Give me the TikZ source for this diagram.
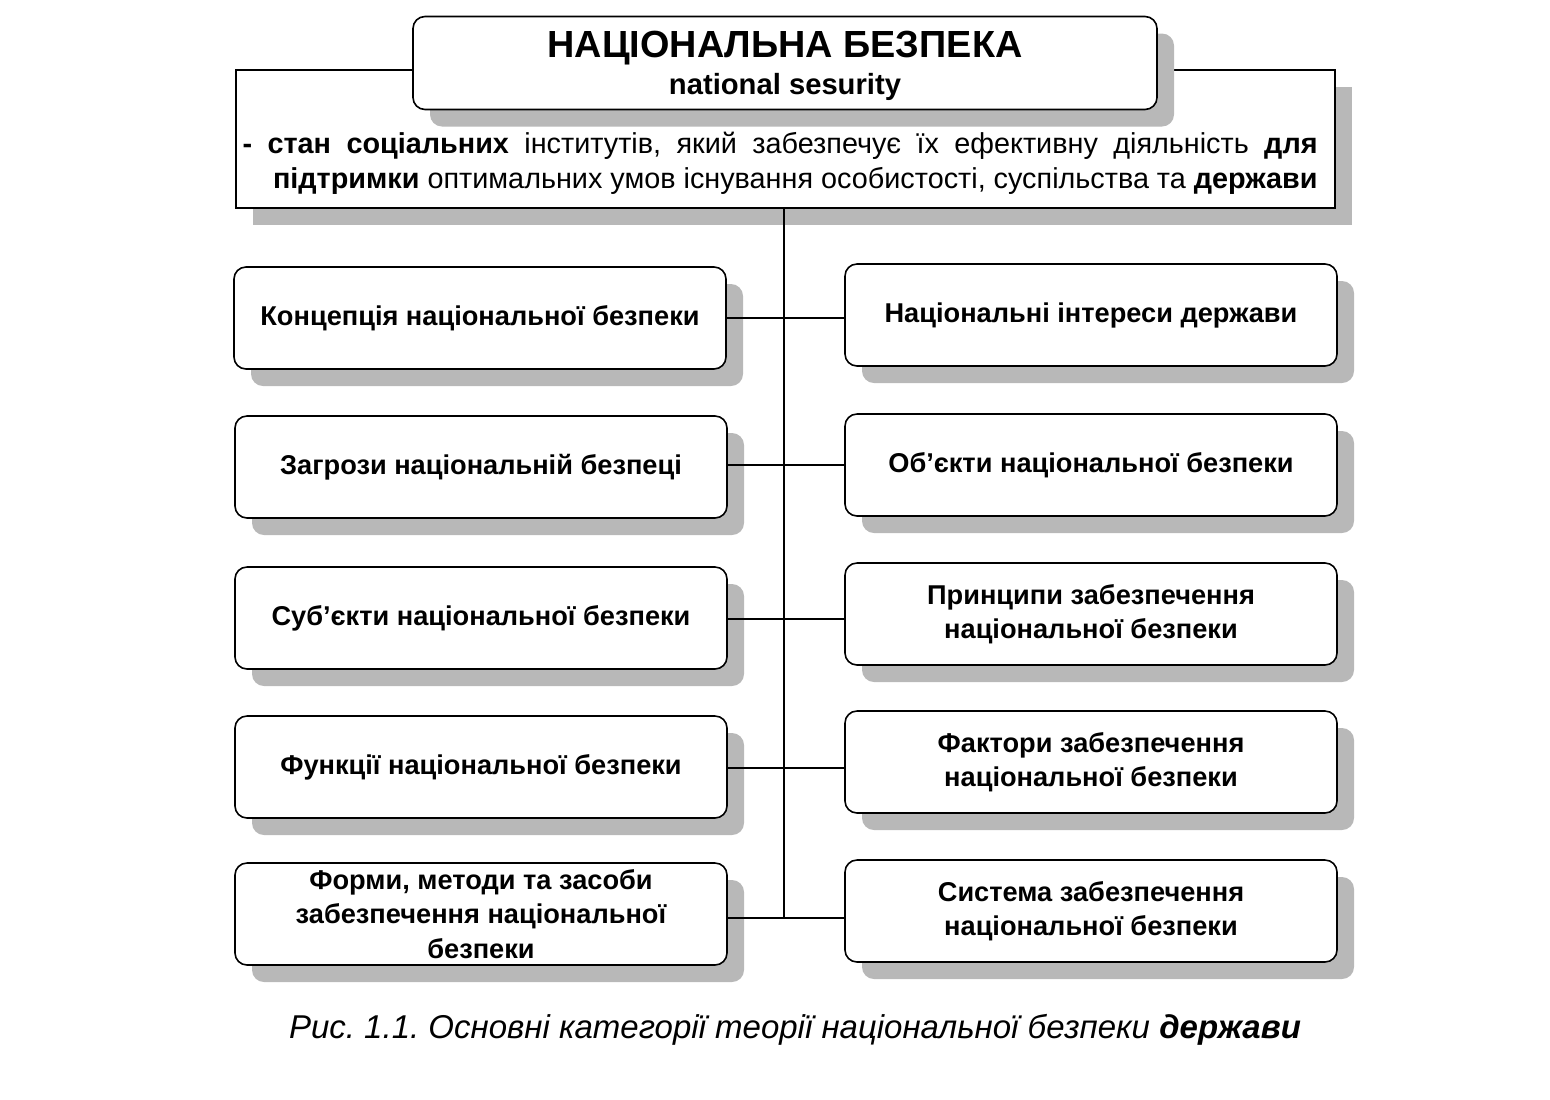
\documentclass[tikz,border=0pt]{standalone}
\usepackage{fontspec}
\setmainfont{Liberation Sans}
\usetikzlibrary{positioning,calc,shadows}
\frenchspacing

\begin{document}
\begin{tikzpicture}[
  x=0.5pt, y=-0.5pt,
  shd/.style={drop shadow={shadow xshift=8.5pt, shadow yshift=-8.5pt, fill=black!28, opacity=1}},
  cat/.style={draw, thick, rounded corners=6pt, fill=white, shd, minimum width=246pt, minimum height=51pt,
    align=center, inner sep=2pt, font=\bfseries\fontsize{13.6}{17.2}\selectfont},
  link/.style={draw, semithick}
]
  \useasboundingbox (0,0) rectangle (1550,1099);

  % definition and title
  \node[draw, thick, fill=white, shd, minimum width=549.5pt, minimum height=69pt] (def) at (785.5,139) {};
  \node[anchor=north east, align=right, inner sep=0pt, font=\fontsize{14.4}{17.5}\selectfont] (deftext) at (1318,132)
    {\makebox[537.5pt][s]{\textbf{- стан соціальних} інститутів, який забезпечує їх ефективну діяльність \textbf{для}}\\
     \textbf{підтримки} оптимальних умов існування особистості, суспільства та \textbf{держави}};
  \node[draw, thick, rounded corners=6pt, fill=white, shd, minimum width=372pt, minimum height=46.5pt,
    align=center, font=\bfseries\fontsize{14.6}{18.5}\selectfont] (title) at (785,63)
    {\rule{0pt}{16.5pt}{\fontsize{18.9}{18.5}\selectfont НАЦІОНАЛЬНА БЕЗПЕКА}\\ national sesurity};

  % left column
  \node[cat] (conc) at (480,318) {Концепція національної безпеки};
  \node[cat] (thr)  at (481,467) {Загрози національній безпеці};
  \node[cat] (subj) at (481,618) {Суб'єкти національної безпеки};
  \node[cat] (func) at (481,767) {Функції національної безпеки};
  \node[cat] (form) at (481,914) {Форми, методи та засоби\\забезпечення національної\\безпеки};

  % right column
  \node[cat] (intr) at (1091,315) {Національні інтереси держави};
  \node[cat] (obj)  at (1091,465) {Об'єкти національної безпеки};
  \node[cat] (prin) at (1091,614) {Принципи забезпечення\\національної безпеки};
  \node[cat] (fact) at (1091,762) {Фактори забезпечення\\національної безпеки};
  \node[cat] (syst) at (1091,911) {Система забезпечення\\національної безпеки};

  % connectors
  \draw[link] (def.south -| 784,0) -- (784,918);
  \draw[link] (conc.east |- 0,318) -- (intr.west |- 0,318);
  \draw[link] (thr.east |- 0,465) -- (obj.west |- 0,465);
  \draw[link] (subj.east |- 0,619) -- (prin.west |- 0,619);
  \draw[link] (func.east |- 0,768) -- (fact.west |- 0,768);
  \draw[link] (form.east |- 0,918) -- (syst.west |- 0,918);

  \node[font=\itshape\fontsize{16.5}{18}\selectfont] (cap) at (795,1030)
    {Рис. 1.1. Основні категорії теорії національної безпеки \textbf{держави}};
\end{tikzpicture}
\end{document}
